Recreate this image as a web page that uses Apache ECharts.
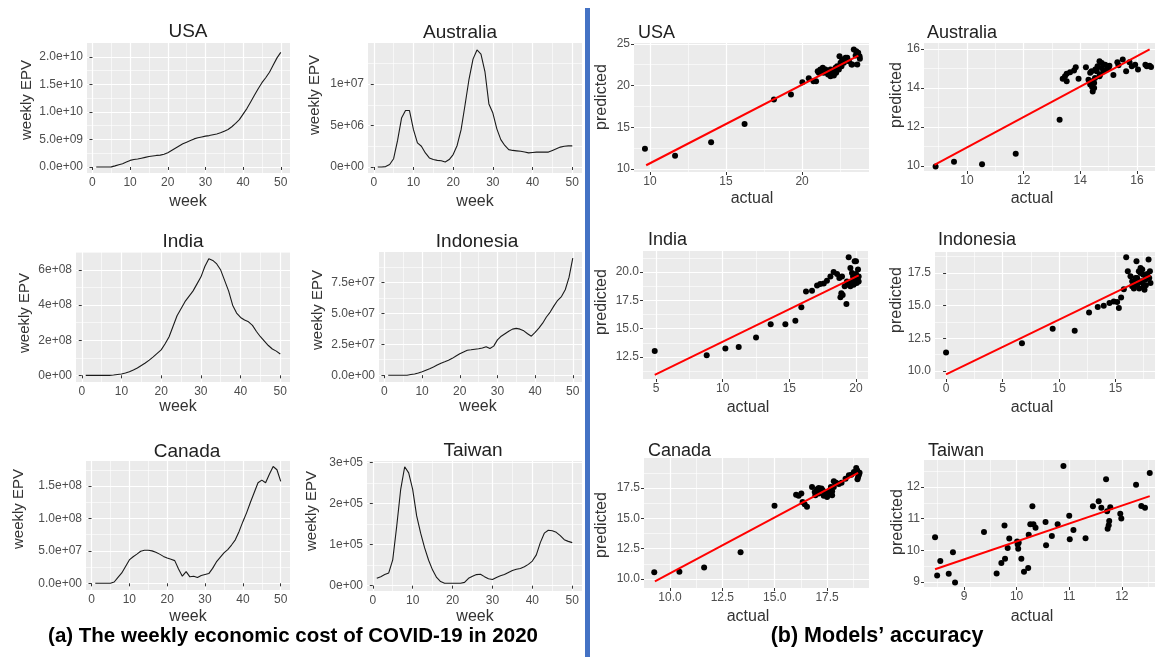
<!DOCTYPE html>
<html><head><meta charset="utf-8">
<script src="https://cdn.jsdelivr.net/npm/echarts@6/dist/echarts.min.js"></script>
<style>html,body{margin:0;padding:0;background:#fff}#c{width:1155px;height:657px}</style>
</head><body><div id="c"></div>
<script>
// ---------- DATA (a): weekly EPV, week 1..50 ----------
const weeks = [1,2,3,4,5,6,7,8,9,10,11,12,13,14,15,16,17,18,19,20,21,22,23,24,25,26,27,28,29,30,31,32,33,34,35,36,37,38,39,40,41,42,43,44,45,46,47,48,49,50];
const weekTicks = [0,10,20,30,40,50];
const weekTickLabels = ['0','10','20','30','40','50'];
// values in units of 1e9
const usaEPV = [0,0,0,0,0.02,0.2,0.4,0.6,0.9,1.2, 1.35,1.45,1.6,1.75,1.9,2.0,2.1,2.15,2.3,2.6, 3.0,3.4,3.8,4.2,4.5,4.8,5.1,5.3,5.45,5.6, 5.7,5.85,6.0,6.2,6.5,6.8,7.3,7.9,8.6,9.6, 10.6,11.8,13.0,14.2,15.3,16.2,17.2,18.5,19.8,20.8];
const usaYTicks = [0,5,10,15,20];
const usaYLabels = ['0.0e+00','5.0e+09','1.0e+10','1.5e+10','2.0e+10'];
// units of 1e6
const australiaEPV = [0,0,0.05,0.3,1.0,3.2,5.9,6.8,6.8,4.5, 2.9,2.5,1.7,1.1,0.9,0.8,0.75,0.6,0.9,1.5, 2.6,4.5,7.5,10.6,13.0,14.1,13.6,11.5,7.6,6.5, 4.6,3.3,2.6,2.1,2.0,1.95,1.9,1.8,1.7,1.75, 1.8,1.8,1.8,1.8,2.0,2.2,2.4,2.5,2.55,2.55];
const australiaYTicks = [0,5,10];
const australiaYLabels = ['0e+00','5e+06','1e+07'];
// units of 1e8
const indiaEPV = [0,0,0,0,0,0,0,0.02,0.05,0.08, 0.13,0.2,0.3,0.42,0.56,0.7,0.87,1.05,1.25,1.45, 1.8,2.2,2.8,3.4,3.8,4.2,4.5,4.8,5.2,5.6, 6.2,6.65,6.55,6.35,6.0,5.4,4.8,4.0,3.55,3.3, 3.15,3.05,2.85,2.5,2.2,1.95,1.7,1.5,1.38,1.22];
const indiaYTicks = [0,2,4,6];
const indiaYLabels = ['0e+00','2e+08','4e+08','6e+08'];
// units of 1e7
const indonesiaEPV = [0,0,0,0,0,0,0.05,0.1,0.18,0.28, 0.4,0.52,0.66,0.82,0.97,1.08,1.2,1.36,1.55,1.73, 1.88,2.02,2.05,2.1,2.14,2.2,2.3,2.15,2.35,2.85, 3.15,3.35,3.55,3.72,3.78,3.72,3.58,3.35,3.15,3.45, 3.8,4.2,4.7,5.1,5.6,6.05,6.35,6.9,7.9,9.45];
const indonesiaYTicks = [0,2.5,5,7.5];
const indonesiaYLabels = ['0.0e+00','2.5e+07','5.0e+07','7.5e+07'];
// units of 1e7
const canadaEPV = [0,0,0,0,0,0.2,0.9,1.6,2.6,3.6, 4.1,4.5,4.95,5.1,5.1,5.0,4.8,4.5,4.15,3.9, 3.7,3.5,2.2,1.1,1.8,1.0,1.1,0.9,1.2,1.35, 1.5,2.3,3.3,4.0,4.7,5.2,5.9,6.7,8.0,9.5, 10.9,12.5,14.0,15.5,15.9,15.5,16.8,18.0,17.5,15.7];
const canadaYTicks = [0,5,10,15];
const canadaYLabels = ['0.0e+00','5.0e+07','1.0e+08','1.5e+08'];
// units of 1e5
const taiwanEPV = [0.18,0.22,0.27,0.31,0.63,1.45,2.35,2.9,2.75,2.35, 1.7,1.28,0.92,0.62,0.38,0.2,0.1,0.06,0.06,0.06, 0.06,0.06,0.08,0.18,0.23,0.27,0.28,0.22,0.17,0.15, 0.2,0.24,0.27,0.32,0.37,0.4,0.42,0.46,0.52,0.6, 0.75,1.05,1.28,1.35,1.34,1.3,1.22,1.12,1.08,1.05];
const taiwanYTicks = [0,1,2,3];
const taiwanYLabels = ['0e+00','1e+05','2e+05','3e+05'];

// ---------- DATA (b): actual vs predicted ----------
const usaActual = [9.67,11.65,14.02,16.22,18.15,19.27,20.02,20.44,20.75,20.92,21.03,21.2,21.36,21.54,21.43,21.71,21.87,22.09,22.24,22.42,22.59,22.75,22.46,22.64,22.86,23.08,23.25,23.4,23.56,23.69,23.78,23.63,23.3,21.98,22.2,21.87,21.65,21.1,22.09,22.31,22.53,22.97,23.52,23.8,21.2];
const usaPredicted = [12.44,11.6,13.2,15.4,18.32,18.92,20.4,20.88,20.52,20.52,21.72,21.92,22.12,21.92,21.52,21.32,21.12,21.2,21.52,21.92,22.32,22.72,23.52,23.12,23.32,22.92,22.52,24.32,24.12,23.92,23.52,22.52,22.52,21.72,22.12,21.92,21.6,21.52,21.72,22.32,22.72,23.32,23.6,23.2,21.72];
const usaFitX = [9.75,23.7], usaFitY = [10.45,23.6];
const usaAccXTicks = [10,15,20], usaAccYTicks = [10,15,20,25];

const ausActual = [8.89,9.54,10.53,11.72,13.27,13.38,13.46,13.52,13.64,13.78,13.84,13.94,14.2,14.35,14.38,14.42,14.44,14.49,14.52,14.58,14.61,14.68,14.7,14.76,14.88,14.94,15.03,15.17,15.31,15.35,15.5,15.62,15.74,15.82,15.94,16.04,16.3,16.35,16.45,16.5,14.29,14.49,14.35,14.68,14.82,15.0,14.4,14.53,14.76,13.52];
const ausPredicted = [9.97,10.22,10.09,10.62,12.37,14.47,14.59,14.73,14.8,14.89,15.06,14.47,15.06,14.77,14.34,14.05,13.82,13.99,14.51,14.85,15.11,15.37,14.68,15.02,15.19,14.94,15.14,14.66,15.31,15.16,15.45,14.85,15.31,15.11,15.18,14.94,15.19,15.11,15.14,15.07,14.42,14.25,14.17,14.59,14.85,15.02,14.85,14.94,15.28,14.34];
const ausFitX = [8.85,16.45], ausFitY = [10.05,15.97];
const ausAccXTicks = [10,12,14,16], ausAccYTicks = [10,12,14,16];

const indiaActual = [4.9,8.8,10.2,11.2,12.5,13.6,14.7,15.45,15.9,16.25,16.7,17.08,17.32,17.58,17.82,18.08,18.32,18.58,18.75,18.95,19.15,18.9,18.83,19.0,19.28,19.45,19.58,19.7,19.82,19.9,20.0,20.08,20.15,20.2,19.95,19.7,19.45,19.78,20.0,20.2,19.32,19.58,19.85,20.05];
const indiaPredicted = [13.03,12.65,13.24,13.39,14.22,15.4,15.4,15.7,16.89,18.28,18.34,18.81,18.93,18.99,19.23,19.61,20.0,19.82,19.47,19.61,18.73,18.13,17.78,17.98,17.18,21.3,20.36,19.91,18.87,20.95,20.95,19.47,20.21,19.17,19.32,19.17,18.87,19.61,19.82,19.61,19.17,18.73,19.32,19.02];
const indiaFitX = [4.9,20.2], indiaFitY = [10.93,19.7];
const indiaAccXTicks = [5,10,15,20], indiaAccYTicks = [12.5,15,17.5,20];

const indoActual = [0,6.72,9.44,11.39,12.66,13.43,13.96,14.47,14.85,15.15,15.3,15.5,15.74,15.95,16.09,16.33,16.48,16.63,16.78,16.86,16.92,17.07,17.22,17.28,17.37,17.46,17.51,17.57,17.66,17.81,17.93,17.99,18.1,18.05,16.63,16.92,17.22,17.69,17.4,17.1,16.78,16.48];
const indoPredicted = [11.41,12.13,13.23,13.07,14.48,14.89,14.99,15.2,15.32,15.27,14.81,15.63,16.25,18.7,17.63,17.24,16.48,16.3,17.12,18.4,16.6,17.63,17.88,16.86,17.76,17.37,16.48,16.22,16.99,17.42,18.52,17.12,16.73,17.63,16.73,17.12,17.5,16.55,16.73,16.3,16.6,16.86];
const indoFitX = [0,18.1], indoFitY = [9.74,17.32];
const indoAccXTicks = [0,5,10,15], indoAccYTicks = [10,12.5,15,17.5];

const canadaActual = [9.25,10.45,11.63,13.37,14.99,16.02,16.14,16.27,16.33,16.43,16.54,16.78,16.91,17.02,17.1,17.23,17.34,17.45,17.55,17.66,17.74,17.82,17.93,18.06,18.19,18.38,18.54,18.66,18.78,18.89,18.94,18.98,19.02,19.05,18.95,17.29,17.5,16.94,17.1,17.74,17.82,17.68];
const canadaPredicted = [10.55,10.6,10.95,12.21,16.03,16.95,16.85,17.04,16.35,16.16,15.95,17.58,17.17,17.39,17.5,17.45,16.85,17.17,17.04,17.31,16.9,18.05,17.94,17.83,17.94,18.26,18.54,18.59,18.81,19.14,18.95,18.4,18.59,18.75,18.21,17.31,16.76,16.9,17.04,17.23,17.58,17.58];
const canadaFitX = [9.28,18.98], canadaFitY = [9.81,18.75];
const canadaAccXTicks = [10,12.5,15,17.5], canadaAccYTicks = [10,12.5,15,17.5];

const taiwanActual = [8.45,8.49,8.55,8.71,8.79,8.83,9.38,9.62,9.71,9.77,9.78,9.83,9.86,10.01,10.02,10.03,10.04,10.09,10.14,10.22,10.23,10.26,10.3,10.32,10.36,10.55,10.56,10.67,10.78,10.89,11.0,11.01,11.08,11.31,11.45,11.56,11.61,11.7,11.72,11.73,11.75,11.76,11.78,11.97,11.99,12.27,12.37,12.44,12.53];
const taiwanPredicted = [10.41,9.2,9.66,9.26,9.94,8.98,10.58,9.27,9.6,10.78,9.73,10.07,10.37,10.28,10.18,10.05,10.24,9.73,9.32,9.44,10.49,10.82,11.39,10.82,10.71,10.89,10.16,10.45,10.82,12.66,11.09,10.35,10.64,10.38,11.39,11.55,11.34,12.24,11.23,10.68,10.79,10.92,11.36,11.15,11.0,12.07,11.4,11.34,12.44];
const taiwanFitX = [8.45,12.53], taiwanFitY = [9.4,11.71];
const taiwanAccXTicks = [9,10,11,12], taiwanAccYTicks = [9,10,11,12];

const captionA = '(a) The weekly economic cost of COVID-19 in 2020';
const captionB = '(b) Models\u2019 accuracy';

// ---------- LAYOUT / STYLE ----------
const FONT = "'Liberation Sans', Arial, sans-serif";
const PANEL_BG = '#EBEBEB';
const TICK_COL = '#4D4D4D';

const leftPanels = [
  {title:'USA', values:usaEPV, yTicks:usaYTicks, yLabels:usaYLabels, box:[87,43,203,130], yRange:[-1.09,22.5], t:[188,32], yt:[27,100], xt:[188,202]},
  {title:'Australia', values:australiaEPV, yTicks:australiaYTicks, yLabels:australiaYLabels, box:[368,43,214,130], yRange:[-0.72,14.94], t:[460,33], yt:[315,95], xt:[475,202]},
  {title:'India', values:indiaEPV, yTicks:indiaYTicks, yLabels:indiaYLabels, box:[76,252,214,130], yRange:[-0.38,7.03], t:[183,242], yt:[25,313], xt:[178,407]},
  {title:'Indonesia', values:indonesiaEPV, yTicks:indonesiaYTicks, yLabels:indonesiaYLabels, box:[379,252,203,130], yRange:[-0.55,9.95], t:[477,242], yt:[318,310], xt:[478,407]},
  {title:'Canada', values:canadaEPV, yTicks:canadaYTicks, yLabels:canadaYLabels, box:[86,461,204,129], yRange:[-1.03,18.85], t:[187,452], yt:[19,509], xt:[188,617]},
  {title:'Taiwan', values:taiwanEPV, yTicks:taiwanYTicks, yLabels:taiwanYLabels, box:[367,461,215,130], yRange:[-0.13,3.04], t:[473,451], yt:[312,511], xt:[475,617]}
];
const rightPanels = [
  {title:'USA', xs:usaActual, ys:usaPredicted, fx:usaFitX, fy:usaFitY, xTicks:usaAccXTicks, yTicks:usaAccYTicks, box:[634,43,235,129], xRange:[8.95,24.4], yRange:[9.64,25.1], t:[638,33], yt:[602,97], xt:[752,199]},
  {title:'Australia', xs:ausActual, ys:ausPredicted, fx:ausFitX, fy:ausFitY, xTicks:ausAccXTicks, yTicks:ausAccYTicks, box:[924,43,231,128], xRange:[8.48,16.64], yRange:[9.74,16.3], t:[927,33], yt:[897,95], xt:[1032,199]},
  {title:'India', xs:indiaActual, ys:indiaPredicted, fx:indiaFitX, fy:indiaFitY, xTicks:indiaAccXTicks, yTicks:indiaAccYTicks, yFmt:1, box:[643,251,225,128], xRange:[4.02,20.9], yRange:[10.56,21.85], t:[648,240], yt:[602,302], xt:[748,408]},
  {title:'Indonesia', xs:indoActual, ys:indoPredicted, fx:indoFitX, fy:indoFitY, xTicks:indoAccXTicks, yTicks:indoAccYTicks, yFmt:1, box:[935,252,220,127], xRange:[-0.98,18.5], yRange:[9.39,19.1], t:[938,240], yt:[897,300], xt:[1032,408]},
  {title:'Canada', xs:canadaActual, ys:canadaPredicted, fx:canadaFitX, fy:canadaFitY, xTicks:canadaAccXTicks, yTicks:canadaAccYTicks, xFmt:1, yFmt:1, box:[644,458,225,130], xRange:[8.76,19.5], yRange:[9.26,19.97], t:[648,451], yt:[602,525], xt:[748,617]},
  {title:'Taiwan', xs:taiwanActual, ys:taiwanPredicted, fx:taiwanFitX, fy:taiwanFitY, xTicks:taiwanAccXTicks, yTicks:taiwanAccYTicks, box:[924,460,231,127], xRange:[8.24,12.63], yRange:[8.84,12.85], t:[928,451], yt:[898,522], xt:[1032,617]}
];

const option = {animation:false, backgroundColor:'#fff', grid:[], xAxis:[], yAxis:[], series:[], graphic:[]};

function minorOf(ticks, lo, hi){
  const d = ticks[1]-ticks[0], out = [];
  const cand = [ticks[0]-d/2].concat(ticks.map(v => v+d/2));
  cand.forEach(v => { if (v > lo && v < hi) out.push(v); });
  return out;
}
function labelFn(ticks, labels){
  return function(v){
    let best = 0, bd = Infinity;
    ticks.forEach((t,i) => { const d = Math.abs(t-v); if (d < bd){ bd = d; best = i; } });
    return labels[best];
  };
}
function addAxis(list, g, range, ticks, labels, isX){
  const pos = isX ? 'bottom' : 'left';
  const minorTicks = minorOf(ticks, range[0], range[1]);
  const minor = {
    gridIndex:g, type:'value', position:pos, offset:0, min:range[0], max:range[1],
    axisLine:{show:false},
    axisTick:{show:false, customValues:minorTicks},
    axisLabel:{show:false, customValues:minorTicks},
    splitLine:{show:true, lineStyle:{color:'#FFFFFF', width:0.6}}
  };
  const major = {
    gridIndex:g, type:'value', position:pos, offset:0, min:range[0], max:range[1],
    axisLine:{show:false},
    axisTick:{show:true, length:3, customValues:ticks, lineStyle:{color:'#333', width:1}},
    axisLabel:{customValues:ticks, formatter:labelFn(ticks, labels), color:TICK_COL, fontSize:12, fontFamily:FONT, margin:4},
    splitLine:{show:true, lineStyle:{color:'#FFFFFF', width:1.2}}
  };
  list.push(minor);
  list.push(major);
  return list.length-1;
}
function txt(x, y, text, size, opt){
  opt = opt || {};
  option.graphic.push({
    type:'text', x:x, y:y, rotation:opt.rot || 0, z:100,
    style:{text:text, fill:opt.color || '#333', font:(opt.bold?'bold ':'') + size + 'px ' + FONT,
      textAlign:opt.align || 'center', textVerticalAlign:'middle'}
  });
}
function mkGrid(box){
  option.grid.push({left:box[0], top:box[1], width:box[2], height:box[3], show:true, backgroundColor:PANEL_BG, borderWidth:0});
  return option.grid.length-1;
}

leftPanels.forEach(p => {
  const g = mkGrid(p.box);
  const xi = addAxis(option.xAxis, g, [-1.45,52.45], weekTicks, weekTickLabels, true);
  const yi = addAxis(option.yAxis, g, p.yRange, p.yTicks, p.yLabels, false);
  option.series.push({type:'line', xAxisIndex:xi, yAxisIndex:yi, symbol:'none', silent:true,
    data:weeks.map((w,i) => [w, p.values[i]]), lineStyle:{color:'#1A1A1A', width:1.1}});
  txt(p.t[0], p.t[1], p.title, 19, {color:'#222'});
  txt(p.yt[0], p.yt[1], 'weekly EPV', 15, {rot:Math.PI/2});
  txt(p.xt[0], p.xt[1], 'week', 16);
});

rightPanels.forEach(p => {
  const g = mkGrid(p.box);
  const xl = p.xTicks.map(v => p.xFmt ? v.toFixed(1) : String(v));
  const yl = p.yTicks.map(v => p.yFmt ? v.toFixed(1) : String(v));
  const xi = addAxis(option.xAxis, g, p.xRange, p.xTicks, xl, true);
  const yi = addAxis(option.yAxis, g, p.yRange, p.yTicks, yl, false);
  option.series.push({type:'scatter', xAxisIndex:xi, yAxisIndex:yi, symbolSize:6, silent:true,
    data:p.xs.map((x,i) => [x, p.ys[i]]), itemStyle:{color:'#000', opacity:1}});
  option.series.push({type:'line', xAxisIndex:xi, yAxisIndex:yi, symbol:'none', silent:true,
    data:p.fx.map((x,i) => [x, p.fy[i]]), lineStyle:{color:'#FF0000', width:2}});
  txt(p.t[0], p.t[1], p.title, 18, {color:'#222', align:'left'});
  txt(p.yt[0], p.yt[1], 'predicted', 16, {rot:Math.PI/2});
  txt(p.xt[0], p.xt[1], 'actual', 16);
});

option.graphic.push({type:'rect', shape:{x:585, y:8, width:5, height:649}, style:{fill:'#4472C4'}, z:100});
txt(293, 636, captionA, 20.5, {bold:true, color:'#000'});
txt(877, 636, captionB, 21.5, {bold:true, color:'#000'});

const chart = echarts.init(document.getElementById('c'), null, {renderer:'canvas'});
chart.setOption(option);
</script></body></html>
